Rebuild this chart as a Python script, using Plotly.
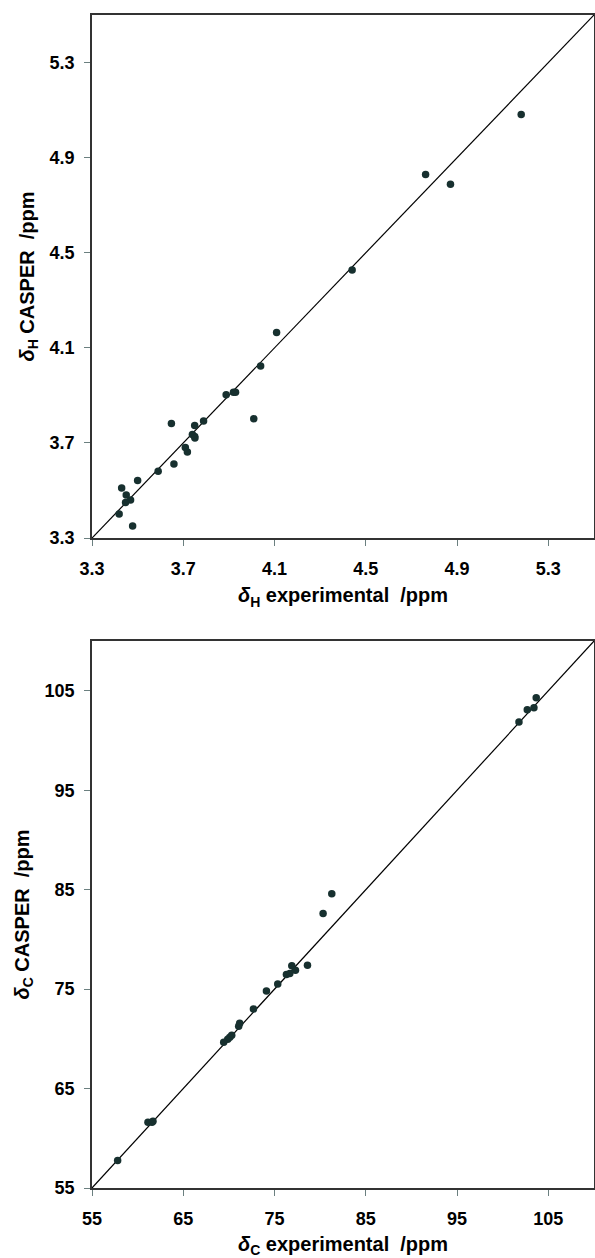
import plotly.graph_objects as go

# ---- data: top panel (1H shifts) ----
h_exp = [5.181, 4.762, 4.871, 4.440, 4.109, 4.039, 3.888, 3.920, 3.929, 4.009,
         3.648, 3.750, 3.789, 3.740, 3.750, 3.751, 3.709, 3.718, 3.590, 3.659,
         3.500, 3.430, 3.450, 3.469, 3.447, 3.419, 3.478]
h_casper = [5.081, 4.829, 4.788, 4.427, 4.165, 4.024, 3.903, 3.913, 3.913, 3.802,
            3.782, 3.773, 3.792, 3.735, 3.727, 3.721, 3.681, 3.662, 3.581, 3.611,
            3.542, 3.511, 3.481, 3.460, 3.449, 3.401, 3.351]
h_range = [3.3, 5.5]
h_ticks = [3.3, 3.7, 4.1, 4.5, 4.9, 5.3]

# ---- data: bottom panel (13C shifts) ----
c_exp = [103.67, 103.42, 102.69, 101.78, 81.27, 80.32, 78.61, 76.89, 77.29, 76.30,
         76.67, 75.35, 74.11, 72.69, 71.18, 71.07, 70.31, 70.10, 69.87, 69.43,
         57.81, 61.13, 61.57, 61.68]
c_casper = [104.29, 103.29, 103.09, 101.85, 84.59, 82.61, 77.41, 77.34, 76.90, 76.47,
            76.57, 75.52, 74.82, 73.01, 71.56, 71.26, 70.36, 70.15, 69.95, 69.65,
            57.77, 61.60, 61.60, 61.70]
c_range = [55, 110]
c_ticks = [55, 65, 75, 85, 95, 105]

MARKER = dict(color="#17302f", size=7.5)
FONT = "Liberation Sans, Arial, sans-serif"

fig = go.Figure()
fig.add_trace(go.Scatter(x=h_range, y=h_range, mode="lines",
                         line=dict(color="black", width=1.2),
                         xaxis="x", yaxis="y", showlegend=False, hoverinfo="skip"))
fig.add_trace(go.Scatter(x=h_exp, y=h_casper, mode="markers", marker=MARKER,
                         xaxis="x", yaxis="y", showlegend=False))
fig.add_trace(go.Scatter(x=c_range, y=c_range, mode="lines",
                         line=dict(color="black", width=1.2),
                         xaxis="x2", yaxis="y2", showlegend=False, hoverinfo="skip"))
fig.add_trace(go.Scatter(x=c_exp, y=c_casper, mode="markers", marker=MARKER,
                         xaxis="x2", yaxis="y2", showlegend=False))

def ax(rng, ticks, dom, anchor, title, standoff, lblstand):
    return dict(
        range=rng, domain=dom, anchor=anchor, automargin=False,
        tickmode="array", tickvals=ticks, ticktext=[str(t) for t in ticks],
        ticks="outside", ticklen=6, tickwidth=1, tickcolor="#6b8080",
        ticklabelstandoff=lblstand,
        tickfont=dict(family=FONT, size=18, color="black", weight="bold"),
        showline=True, linecolor="#333333", linewidth=1.6, mirror=True,
        showgrid=False, zeroline=False,
        title=dict(text=title,
                   font=dict(family=FONT, size=20, color="black", weight="bold"),
                   standoff=standoff),
    )

top_dom = [0.5541, 1.0]
bot_dom = [0.0, 0.4663]

fig.update_layout(
    width=595, height=1258,
    margin=dict(l=92, r=1, t=15, b=70),
    paper_bgcolor="white", plot_bgcolor="white",
    xaxis=ax(h_range, h_ticks, [0, 1], "y", "<i>δ</i><sub>H</sub> experimental  /ppm", 10, 8),
    yaxis=ax(h_range, h_ticks, top_dom, "x", "<i>δ</i><sub>H</sub> CASPER  /ppm", 10, 6),
    xaxis2=ax(c_range, c_ticks, [0, 1], "y2", "<i>δ</i><sub>C</sub> experimental  /ppm", 10, 8),
    yaxis2=ax(c_range, c_ticks, bot_dom, "x2", "<i>δ</i><sub>C</sub> CASPER  /ppm", 10, 6),
)

fig.write_html(
    "out.html",
    config={"displayModeBar": False},
    post_script="document.body.style.margin='0';document.body.style.padding='0';"
                "document.body.style.overflow='hidden';",
)
